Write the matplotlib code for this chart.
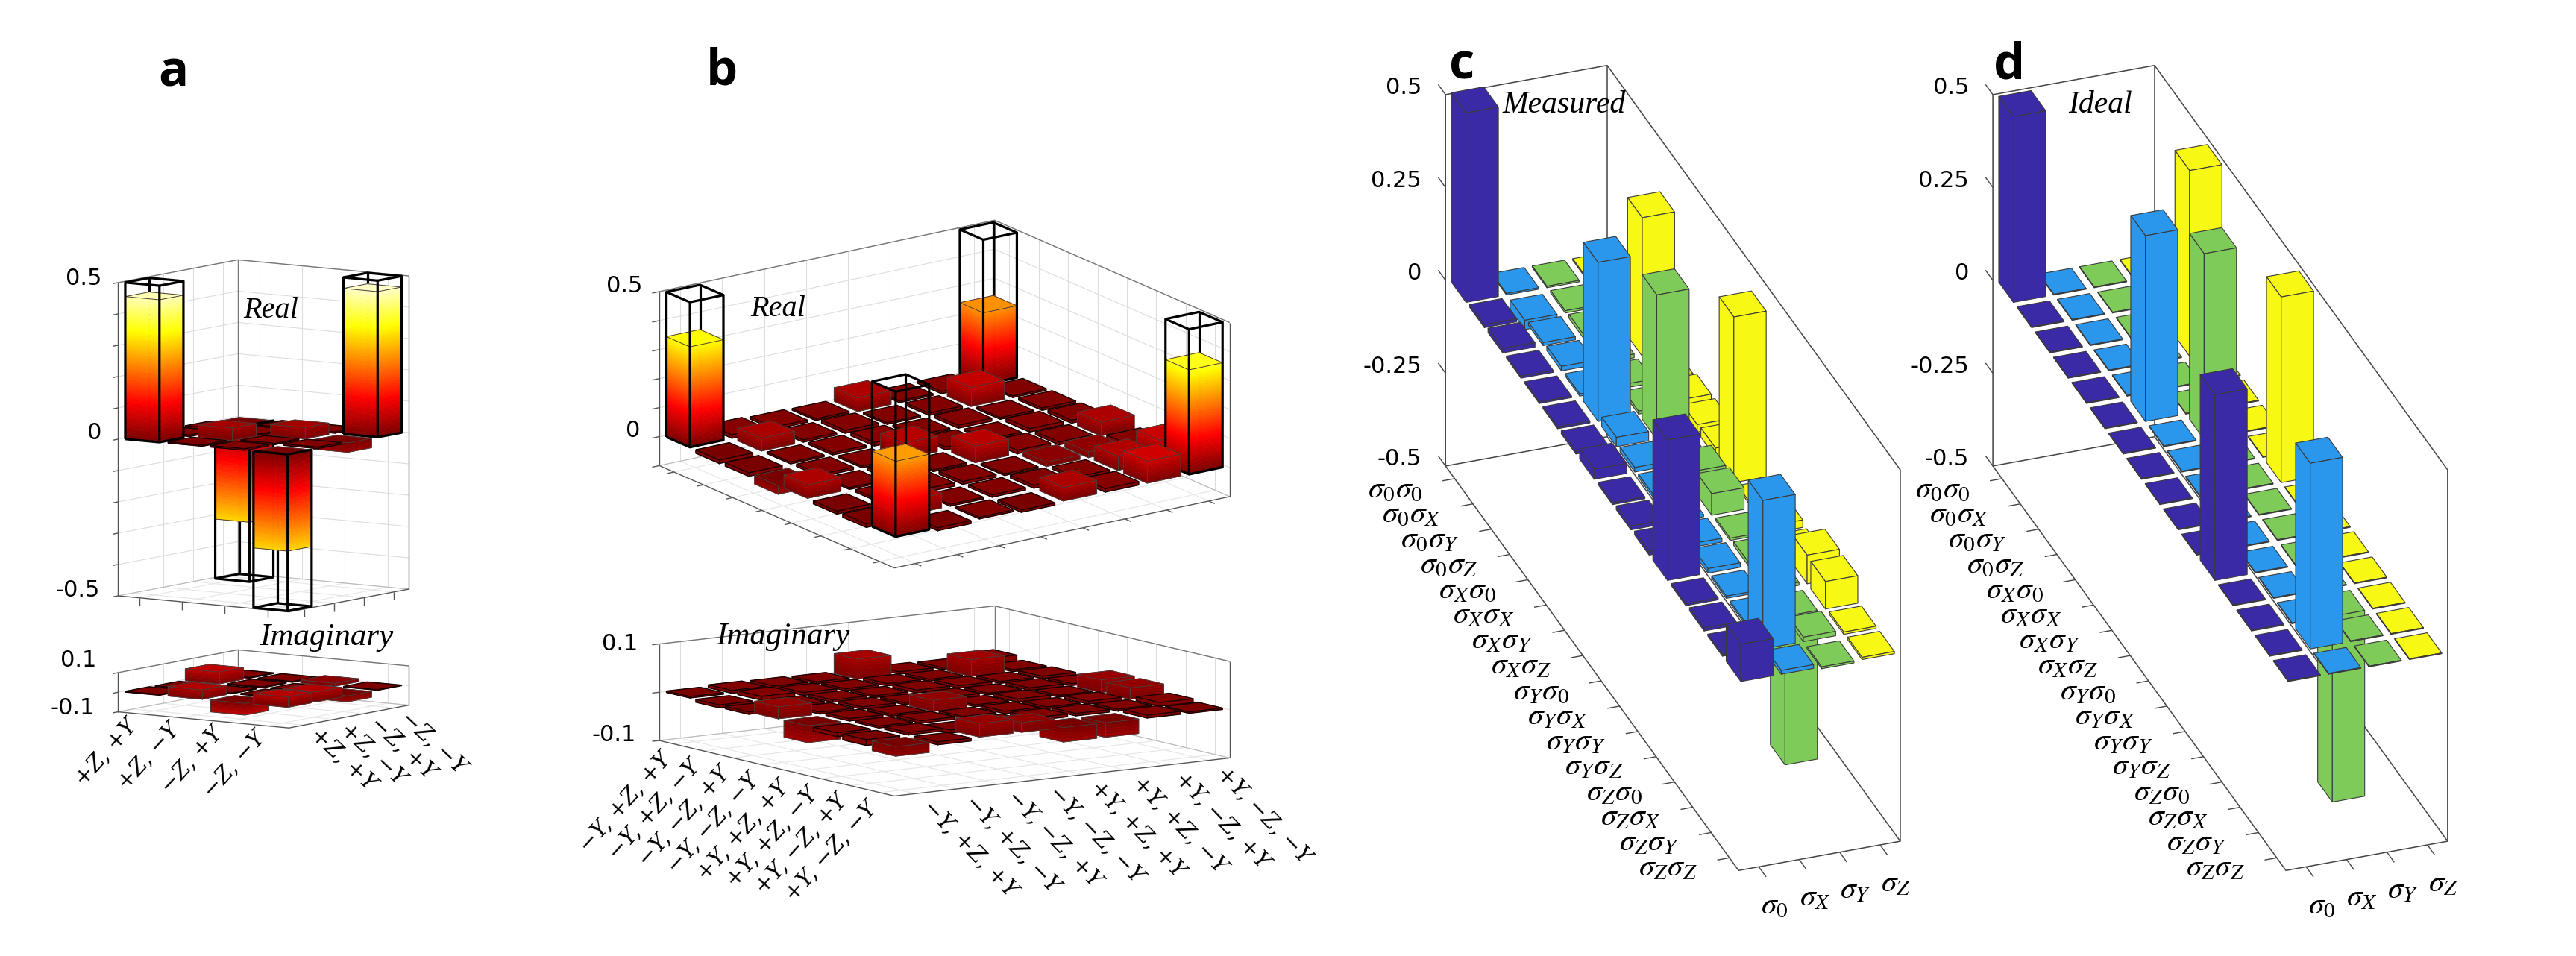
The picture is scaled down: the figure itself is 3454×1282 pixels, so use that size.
import numpy as np
import matplotlib
matplotlib.use("Agg")
import matplotlib.pyplot as plt
from mpl_toolkits.mplot3d.art3d import Poly3DCollection, Line3DCollection

W, H = 3454, 1282
plt.rcParams['mathtext.fontset'] = 'stix'

# DATA

# panel a, rows = left axis, columns = right axis
a_labels = ["+Z, +Y", "+Z, −Y", "−Z, +Y", "−Z, −Y"]
a_ideal = [[0.5, 0, 0, -0.5], [0, 0, 0, 0], [0, 0, 0, 0], [-0.5, 0, 0, 0.5]]
a_real = [
    [0.455, 0.005, 0.006, -0.31],
    [0.004, 0.04, 0.004, 0.003],
    [0.005, 0.004, 0.036, 0.004],
    [-0.309, 0.005, -0.03, 0.465],
]
a_imag = [
    [0.004, 0.003, 0.06, 0.004],
    [0.048, 0.004, 0.005, 0.004],
    [-0.06, 0.004, 0.004, 0.015],
    [0.053, 0.05, -0.03, 0.003],
]

# panel b
b_labels = ["−Y, +Z, +Y", "−Y, +Z, −Y", "−Y, −Z, +Y", "−Y, −Z, −Y",
            "+Y, +Z, +Y", "+Y, +Z, −Y", "+Y, −Z, +Y", "+Y, −Z, −Y"]
b_ideal = [[0.5, 0, 0, 0, 0, 0, 0, 0.5]] + [[0] * 8 for _ in range(6)] + [[0.5, 0, 0, 0, 0, 0, 0, 0.5]]
b_real = [
    [0.346, 0.012, 0.008, 0.006, 0.047, 0.006, 0.008, 0.248],
    [-0.012, 0.044, 0.008, 0.01, 0.006, 0.008, 0.066, 0.006],
    [-0.012, 0.006, 0.008, 0.012, 0.006, 0.01, 0.006, 0.008],
    [-0.03, 0.008, 0.006, 0.054, 0.01, 0.006, 0.012, 0.01],
    [0.046, 0.006, 0.01, 0.006, 0.057, 0.012, 0.01, 0.047],
    [-0.01, 0.008, 0.012, 0.01, 0.006, 0.015, 0.02, 0.012],
    [-0.012, 0.05, 0.006, 0.008, 0.01, 0.008, 0.049, 0.073],
    [0.26, -0.01, 0.006, -0.008, 0.047, 0.012, 0.076, 0.36],
]
b_imag = [
    [0.003, 0.006, 0.005, 0.004, 0.041, 0.005, 0.004, 0.012],
    [-0.006, 0.008, 0.006, 0.004, 0.005, 0.004, 0.035, 0.004],
    [-0.005, 0.004, 0.005, 0.004, 0.006, 0.005, 0.004, 0.005],
    [0.025, 0.004, 0.005, 0.004, 0.005, 0.004, 0.005, 0.004],
    [-0.035, 0.005, 0.004, 0.023, 0.004, 0.006, 0.004, 0.026],
    [-0.008, 0.004, 0.005, 0.004, 0.005, 0.004, 0.006, 0.024],
    [-0.012, 0.005, -0.006, 0.004, 0.006, 0.005, 0.004, 0.008],
    [-0.02, -0.006, 0.028, 0.02, -0.03, -0.03, 0.006, 0.003],
]

# panels c and d, rows = first label, columns = sigma_0..sigma_Z
pauli_cols = [r"$\sigma_0$", r"$\sigma_X$", r"$\sigma_Y$", r"$\sigma_Z$"]
pauli_rows = [r"$\sigma_%s\sigma_%s$" % (p, q) for p in "0XYZ" for q in "0XYZ"]
c_measured = [
    [0.51, 0.004, 0.004, 0.004],
    [0.008, -0.025, 0.006, 0.004],
    [0.012, 0.008, 0.01, 0.005],
    [0.005, 0.012, 0.01, 0.373],
    [0.004, 0.006, 0.01, 0.006],
    [0.005, 0.428, 0.008, 0.018],
    [0.008, 0.025, 0.389, 0.02],
    [0.027, 0.012, 0.01, 0.025],
    [0.005, 0.008, 0.05, 0.446],
    [0.01, 0.006, 0.058, 0.006],
    [0.01, 0.01, 0.006, 0.02],
    [0.378, 0.012, 0.01, 0.01],
    [0.005, 0.006, 0.008, 0.077],
    [0.008, 0.006, -0.40, 0.074],
    [0.005, 0.40, 0.012, 0.006],
    [0.10, 0.01, -0.005, 0.006],
]
d_ideal = [
    [0.5, 0, 0, 0], [0, 0, 0, 0], [0, 0, 0, 0], [0, 0, 0, 0.5],
    [0, 0, 0, 0], [0, 0.5, 0, 0], [0, 0, 0.5, 0], [0, 0, 0, 0],
    [0, 0, 0, 0.5], [0, 0, 0, 0], [0, 0, 0, 0], [0.5, 0, 0, 0],
    [0, 0, 0, 0], [0, 0, -0.5, 0], [0, 0.5, 0, 0], [0, 0, 0, 0],
]
col_colors = ["#3b2aa5", "#2a96ec", "#7fcb5a", "#f8f815"]

hot = plt.get_cmap("hot")


def hot_color(z):
    return hot((abs(z) + 0.1) / 0.6)


fig = plt.figure(figsize=(W / 100, H / 100), dpi=100, facecolor="white")


class Panel:
    # a Axes3D whose projection is the parallel one:
    # origin is the pixel of (0, 0, zmin), ex/ey pixels per cell, ez pixels per unit z
    def __init__(self, origin, ex, ey, ez, zmin):
        self.o, self.ex, self.ey, self.ez, self.zmin = origin, ex, ey, ez, zmin
        self.ax = fig.add_axes([0, (1 - W / H) / 2, 1, W / H], projection="3d", computed_zorder=False)
        self.ax.set_axis_off()
        self.ax.patch.set_visible(False)
        self.ax.get_proj = self.get_proj
        self.z = 1

    def get_proj(self):
        T = self.ax.transData.inverted().get_matrix()
        P = np.array([
            [self.ex[0], self.ey[0], 0, self.o[0]],
            [-self.ex[1], -self.ey[1], self.ez, H - self.o[1] - self.ez * self.zmin],
            [0, 0, 0, 1],
        ])
        Q = T @ P
        depth = np.cross(Q[0, :3], Q[1, :3])
        depth = depth / np.linalg.norm(depth)
        return np.array([Q[0], Q[1], [depth[0], depth[1], depth[2], 0], [0, 0, 0, 1]])

    def px(self, x, y, z):
        return (self.o[0] + x * self.ex[0] + y * self.ey[0],
                self.o[1] + x * self.ex[1] + y * self.ey[1] - (z - self.zmin) * self.ez)

    def line(self, pts, color="#555555", lw=1.0):
        # Line3D loses segments with this projection, the collection does not
        col = Line3DCollection([np.array(pts, dtype=float)], colors=color, linewidths=lw, zorder=self.z)
        self.ax.add_collection3d(col, autolim=False)
        self.z += 1

    def polys(self, verts, colors):
        col = Poly3DCollection(verts, facecolors=colors, edgecolors=colors, linewidths=0.5, zorder=self.z)
        self.ax.add_collection3d(col, autolim=False)
        self.z += 1


def label(x, y, s, **kw):
    fig.text(x / W, 1 - y / H, s, **kw)


def hot_bar(p, i, j, h, ideal=None):
    # one bar of panels a/b, faces seen: top, u = i+0.9 and v = j+0.1
    u0, u1, v0, v1 = i + 0.1, i + 0.9, j + 0.1, j + 0.9
    wire = ideal is not None and ideal != 0
    if wire:
        p.line([[u0, v1, 0], [u0, v1, ideal]], "black", 2.3)
        p.line([[u0, v0, ideal], [u0, v1, ideal], [u1, v1, ideal]], "black", 2.3)
    lo, hi = min(h, 0), max(h, 0)
    n = max(1, int((hi - lo) / 0.006))
    zs = np.linspace(lo, hi, n + 1)
    verts, colors = [], []
    for a, b in zip(zs[:-1], zs[1:]):
        c = hot_color((a + b) / 2)
        verts.append([(u0, v0, a), (u1, v0, a), (u1, v0, b), (u0, v0, b)])
        colors.append(c)
        verts.append([(u1, v0, a), (u1, v1, a), (u1, v1, b), (u1, v0, b)])
        colors.append(c)
    verts.append([(u0, v0, hi), (u1, v0, hi), (u1, v1, hi), (u0, v1, hi)])
    colors.append(hot_color(hi))
    p.polys(verts, colors)
    flat = hi - lo < 0.015
    ec, lw = ("#1a0000", 1.0) if flat else ("#4a3a3a", 0.7)
    p.line([[u0, v0, hi], [u1, v0, hi], [u1, v1, hi], [u0, v1, hi], [u0, v0, hi]], ec, lw)
    p.line([[u0, v0, hi], [u0, v0, lo], [u1, v0, lo], [u1, v1, lo], [u1, v1, hi]], ec, lw)
    p.line([[u1, v0, hi], [u1, v0, lo]], ec, lw)
    if wire:
        p.line([[u0, v0, 0], [u0, v0, ideal], [u1, v0, ideal], [u1, v0, 0], [u0, v0, 0]], "black", 2.3)
        p.line([[u1, v0, ideal], [u1, v1, ideal], [u1, v1, 0], [u1, v0, 0]], "black", 2.3)


def hot_box(p, n, zmin, zmax, zgrid, floor_ticks=None):
    c = np.arange(n) + 0.5
    for z in zgrid:
        p.line([[0, 0, z], [0, n, z], [n, n, z]], "#dddddd", 0.8)
    for k in c:
        p.line([[0, k, zmin], [0, k, zmax]], "#dddddd", 0.8)
        p.line([[k, n, zmin], [k, n, zmax]], "#dddddd", 0.8)
        p.line([[0, k, zmin], [n, k, zmin]], "#e6e6e6", 0.8)
        p.line([[k, 0, zmin], [k, n, zmin]], "#e6e6e6", 0.8)
    p.line([[0, 0, zmin], [0, n, zmin], [n, n, zmin]], "#bbbbbb", 0.8)
    p.line([[0, 0, zmax], [0, n, zmax], [n, n, zmax]], "#777777", 1.0)
    p.line([[0, n, zmin], [0, n, zmax]], "#777777", 1.0)
    p.line([[0, 0, zmin], [0, 0, zmax]], "#555555", 1.0)
    p.line([[n, n, zmin], [n, n, zmax]], "#555555", 1.0)
    p.line([[0, 0, zmin], [n, 0, zmin], [n, n, zmin]], "#555555", 1.0)
    for z in zgrid:
        p.line([[0, 0, z], [0, -0.17, z]], "#555555", 1.0)
    if floor_ticks == "z":
        for k in c:
            p.line([[k, 0, zmin], [k, 0, zmin - 0.025]], "#555555", 1.0)
            p.line([[n, k, zmin], [n, k, zmin - 0.025]], "#555555", 1.0)
    elif floor_ticks == "in":
        for k in c:
            p.line([[k, 0, zmin], [k, -0.15, zmin]], "#555555", 1.0)
            p.line([[n, k, zmin], [n + 0.2, k, zmin]], "#555555", 1.0)


def hot_panel(p, values, ideal, n):
    cells = sorted(((i, j) for i in range(n) for j in range(n)), key=lambda t: t[0] - t[1])
    for i, j in cells:
        hot_bar(p, i, j, values[i][j], ideal[i][j] if ideal else None)


def pauli_panel(p, values):
    # top edge, walls and floor first, then the bars back to front
    for pts in ([[0, 0, 0.5], [4, 0, 0.5], [4, 16, 0.5], [4, 16, -0.5], [0, 16, -0.5], [0, 0, -0.5], [0, 0, 0.5]],
                [[0, 0, -0.5], [4, 0, -0.5], [4, 16, -0.5]],
                [[4, 0, -0.5], [4, 0, 0.5]]):
        p.line(pts, "#444444", 1.1)
    for z in [-0.5, -0.25, 0, 0.25, 0.5]:
        p.line([[0, 0, z], [0, -0.4, z]], "#444444", 1.0)
    for k in np.arange(16) + 0.5:
        p.line([[0, k, -0.5], [-0.3, k, -0.5]], "#444444", 1.0)
    for k in np.arange(4) + 0.5:
        p.line([[k, 16, -0.5], [k, 16.4, -0.5]], "#444444", 1.0)
    cells = sorted(((r, k) for r in range(16) for k in range(4)), key=lambda t: t[0] - t[1])
    for r, k in cells:
        h = values[r][k]
        x0, x1, y0, y1 = k + 0.1, k + 0.9, r + 0.1, r + 0.9
        lo, hi = min(h, 0), max(h, 0)
        if hi - lo < 0.002:
            hi = lo + 0.002
        verts = [[(x0, y1, lo), (x1, y1, lo), (x1, y1, hi), (x0, y1, hi)],
                 [(x0, y0, lo), (x0, y1, lo), (x0, y1, hi), (x0, y0, hi)],
                 [(x0, y0, hi), (x1, y0, hi), (x1, y1, hi), (x0, y1, hi)]]
        col = Poly3DCollection(verts, facecolors=col_colors[k], edgecolors="#3a3a3a", linewidths=0.8, zorder=p.z)
        p.ax.add_collection3d(col, autolim=False)
        p.z += 1


def pauli_labels(p, title, title_x):
    tick = dict(fontsize=22, family="DejaVu Sans", ha="right", va="center")
    for z, s in zip([0.5, 0.25, 0, -0.25, -0.5], ["0.5", "0.25", "0", "-0.25", "-0.5"]):
        x, y = p.px(0, 0, z)
        label(x - 32, y - 9, s, **tick)
    for r, s in enumerate(pauli_rows):
        x, y = p.px(0, r + 0.5, -0.5)
        label(x - 43, y + 12, s, fontsize=30, ha="right", va="center")
    for k, s in enumerate(pauli_cols):
        x, y = p.px(k + 0.5, 16, -0.5)
        label(x + 21, y + 50, s, fontsize=30, ha="center", va="center")
    label(title_x, 141, title, fontsize=30, family="Liberation Serif", style="italic", ha="left", va="center")


# PANEL A

a_top = Panel((158.2, 799), (57.3, 5.4), (40.2, -7.65), 420, -0.5)
hot_box(a_top, 4, -0.5, 0.5, np.round(np.arange(-0.5, 0.51, 0.1), 1), "z")
hot_panel(a_top, a_real, a_ideal, 4)

a_bot = Panel((158.2, 954.6), (57.3, 5.4), (40.2, -7.65), 263, -0.1)
hot_box(a_bot, 4, -0.1, 0.1, [-0.1, 0, 0.1])
hot_panel(a_bot, a_imag, None, 4)

# PANEL B

b_top = Panel((884, 624.4), (39.4, 17.15), (56.2, -11.96), 389, -0.1)
hot_box(b_top, 8, -0.1, 0.5, np.round(np.arange(-0.1, 0.51, 0.1), 1), "in")
hot_panel(b_top, b_real, b_ideal, 8)

b_bot = Panel((884, 993), (39.4, 9.31), (56.2, -6.38), 647, -0.1)
hot_box(b_bot, 8, -0.1, 0.1, [-0.1, 0, 0.1])
hot_panel(b_bot, b_imag, None, 8)

# PANELS C, D

c_panel = Panel((1938.2, 624.9), (54.2, -9.8), (24.56, 33.9), 498, -0.5)
pauli_panel(c_panel, c_measured)
d_panel = Panel((2672.1, 624.9), (54.2, -9.8), (24.56, 33.9), 498, -0.5)
pauli_panel(d_panel, d_ideal)

# TEXT

tick_font = dict(fontsize=22, family="DejaVu Sans", ha="right", va="center")
italic = dict(family="Liberation Serif", style="italic", ha="left", va="center")
cell_font = dict(fontsize=21.5, family="DejaVu Serif", style="italic", rotation_mode="anchor", va="center")

label(136, 374, "0.5", **tick_font)
label(136, 581, "0", **tick_font)
label(134, 792, "-0.5", **tick_font)
label(129, 885, "0.1", **tick_font)
label(127, 949, "-0.1", **tick_font)
label(326, 416, "Real", fontsize=29, **italic)
label(348, 855, "Imaginary", fontsize=31, **italic)

label(861, 384, "0.5", **tick_font)
label(858, 578, "0", **tick_font)
label(855, 864, "0.1", **tick_font)
label(853, 986, "-0.1", **tick_font)
label(1006, 415, "Real", fontsize=29, **italic)
label(960, 854, "Imaginary", fontsize=31, **italic)

for k, s in enumerate(a_labels):
    x, y = a_bot.px(k + 0.5, 0, -0.1)
    label(x - 8, y + 11, s, ha="right", rotation=48, **cell_font)
    x, y = a_bot.px(4, k + 0.5, -0.1)
    label(x + 13, y + 9, s, ha="left", rotation=-43, **cell_font)
for k, s in enumerate(b_labels):
    x, y = b_bot.px(k + 0.5, 0, -0.1)
    label(x - 9, y + 16, s, ha="right", rotation=48, **cell_font)
    x, y = b_bot.px(8, k + 0.5, -0.1)
    label(x + 15, y + 13, s, ha="left", rotation=-46, **cell_font)

pauli_labels(c_panel, "Measured", 2014)
pauli_labels(d_panel, "Ideal", 2773)

letter = dict(fontsize=48, family="Open Sans", weight="bold", ha="center", va="baseline")
label(232, 116, "a", **letter)
label(968, 114, "b", **letter)
label(1960, 106, "c", **letter)
label(2694, 106, "d", **letter)

fig.savefig("out.png", dpi=100, facecolor="white")
